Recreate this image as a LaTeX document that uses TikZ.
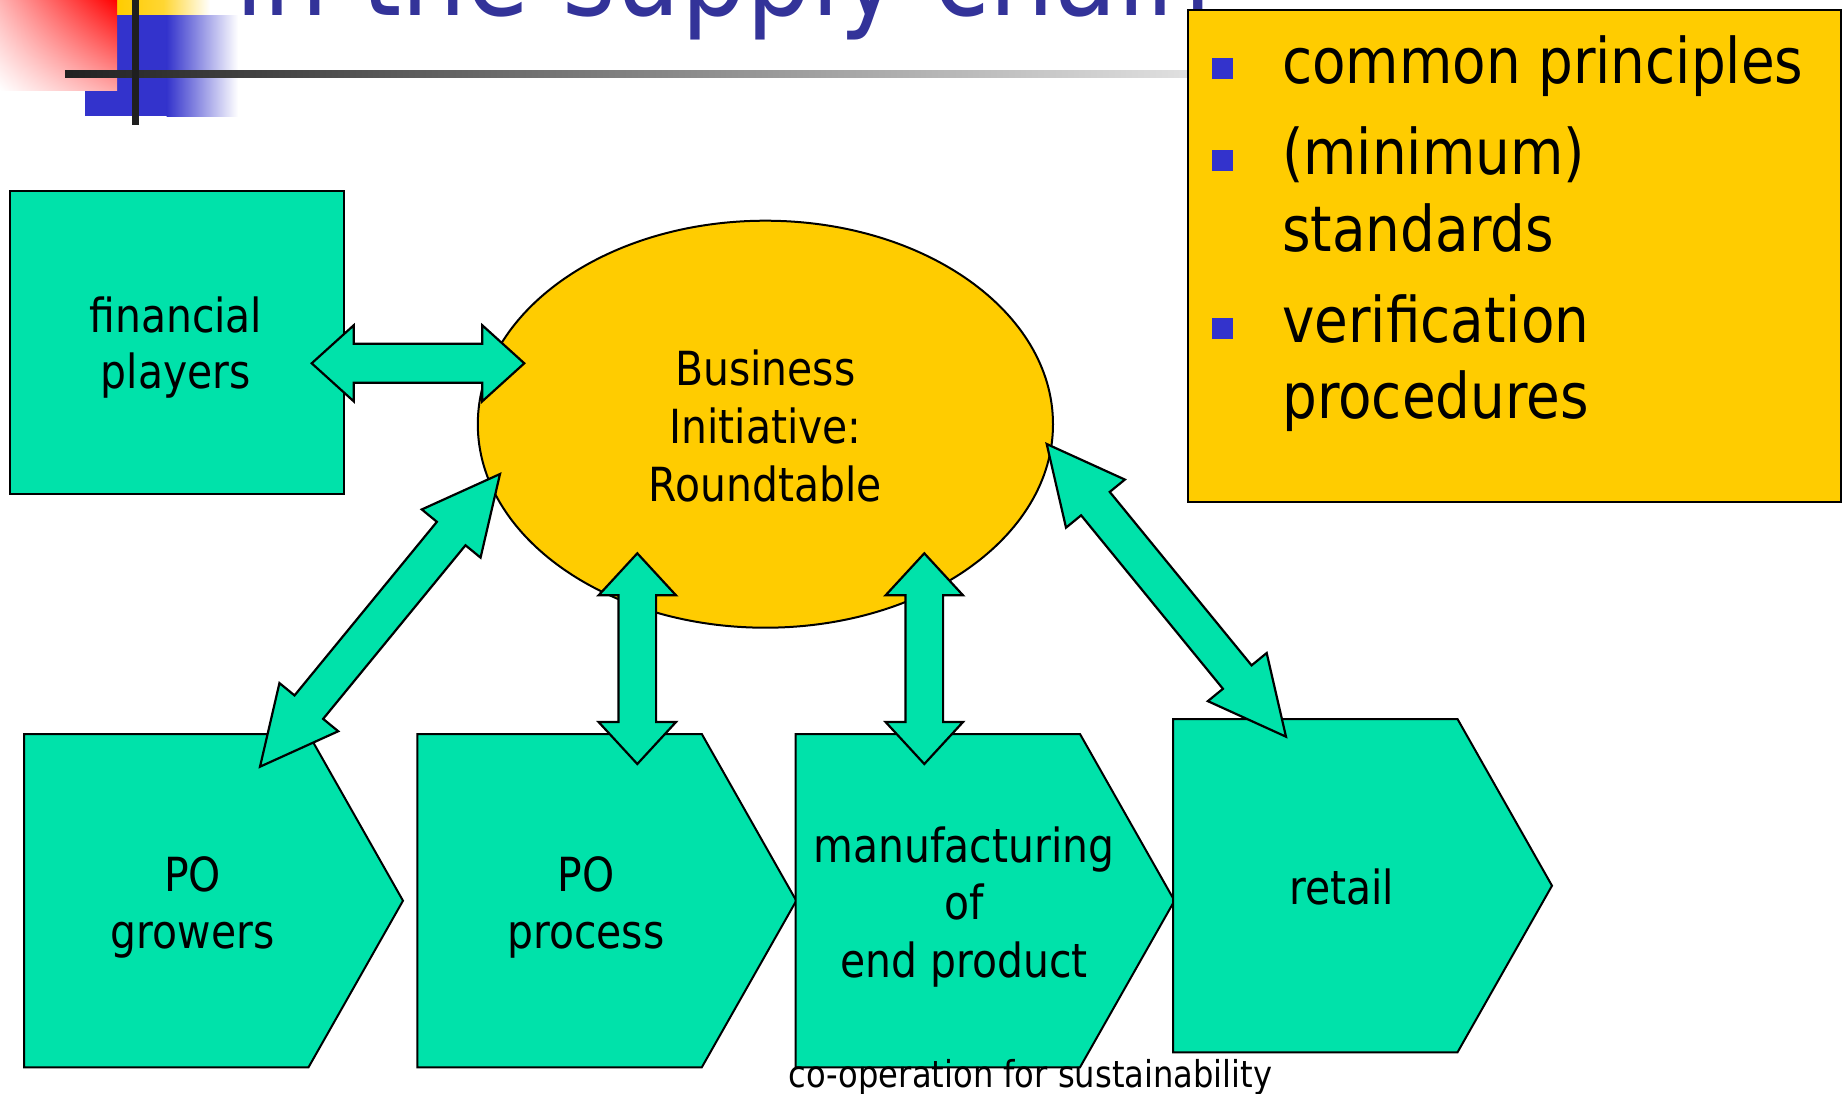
\documentclass[tikz,border=0pt]{standalone}
\usepackage{fontspec}
\setmainfont{DejaVu Sans}[FakeStretch=0.87]
\usetikzlibrary{calc,shapes.geometric,shadings}
\definecolor{grn}{RGB}{0,226,170}
\definecolor{ylw}{RGB}{255,204,0}
\definecolor{blu}{RGB}{51,51,204}
\definecolor{ttl}{RGB}{51,51,153}
\tikzset{
  box/.style={draw=black, fill=grn, line width=2pt, line join=miter},
  dbl/.style={draw=black, fill=grn, line width=2.2pt, line join=miter},
  lbl/.style={font=\fontsize{47}{57}\selectfont, inner sep=0pt, anchor=base},
  lst/.style={font=\fontsize{63}{77}\selectfont, inner sep=0pt, anchor=base west},
  bul/.style={fill=blu, minimum size=21pt, inner sep=0pt},
}
\newcommand\dblarrow[5]{%
  \path[dbl] let \p1=(#1), \p2=(#2),
     \n1={atan2(\y2-\y1,\x2-\x1)}, \n2={veclen(\x2-\x1,\y2-\y1)} in
     [shift={(\p1)}, rotate=\n1]
     (0pt,0pt) -- (#3pt,#4pt) -- (#3pt,#5pt) -- (\n2-#3pt,#5pt) -- (\n2-#3pt,#4pt) -- (\n2,0pt)
     -- (\n2-#3pt,-#4pt) -- (\n2-#3pt,-#5pt) -- (#3pt,-#5pt) -- (#3pt,-#4pt) -- cycle;}
\newcommand\homeplate[3]{%
  \draw[box] (#2,#3) -- ++(284.5,0) -- ++(94.5,166.7) -- ++(-94.5,166.6) -- ++(-284.5,0) -- cycle;
  \coordinate (#1) at (#2+189.5,#3+166.7);}
\begin{document}
\begin{tikzpicture}[x=1pt,y=-1pt]
\useasboundingbox (0,0) rectangle (1848,1093);
\clip (0,0) rectangle (1848,1093);
\fill[white] (0,0) rectangle (1848,1093);
% title decoration
\shade[left color=ylw, right color=white, middle color=ylw!80] (117,-5) rectangle (210,60);
\fill[blu] (85,15) rectangle (167,116);
\shade[left color=blu, right color=white] (166.5,15) rectangle (238,116);
\shade[upper right=red, upper left=red!30, lower right=red!35, lower left=white] (0,0) rectangle (117,90);
\shade[left color=black!87, right color=black!8] (65,70) rectangle (1250,77);
\fill[black!88] (132,0) rectangle (139,125);
\node[font=\fontsize{118}{124}\selectfont, text=ttl, anchor=base west, inner sep=0pt] (title) at (235,15) {in the supply chain};
% yellow list box
\node[draw=black, fill=ylw, line width=2pt, minimum width=653pt, minimum height=492pt, anchor=north west, inner sep=0pt] (ybox) at (1187,9) {};
\node[bul] (b1) at (1222.5,68.5) {};
\node[bul] (b2) at (1222.5,160.5) {};
\node[bul] (b3) at (1222.5,328.5) {};
\node[lst] (l1) at (1282,83) {common principles};
\node[lst] (l2) at (1282,174) {(minimum)};
\node[lst] (l3) at (1282,251) {standards};
\node[lst] (l4) at (1282,342) {verification};
\node[lst] (l5) at (1282,418) {procedures};
% financial players
\node[box, minimum width=333.7pt, minimum height=302.7pt, anchor=north west, inner sep=0pt] (fin) at (9,190) {};
\node[lbl] (fin1) at (175.8,332.5) {financial};
\node[lbl] (fin2) at (175.8,388.3) {players};
% ellipse
\node[ellipse, draw=black, fill=ylw, line width=2pt, minimum width=575.2pt, minimum height=407pt, inner sep=0pt] (bi) at (765.4,424.2) {};
\node[lbl] (bi1) at (765.4,385) {Business};
\node[lbl] (bi2) at (765.4,443) {Initiative:};
\node[lbl] (bi3) at (765.4,501) {Roundtable};
% chain shapes
\homeplate{grow}{24}{734}
\homeplate{proc}{417.3}{734}
\homeplate{manu}{795.5}{734}
\homeplate{reta}{1173}{719}
\node[lbl] (g1) at (192.5,891) {PO};
\node[lbl] (g2) at (192.5,948.3) {growers};
\node[lbl] (p1) at (585.8,891) {PO};
\node[lbl] (p2) at (585.8,948.3) {process};
\node[lbl] (m1) at (964,862.5) {manufacturing};
\node[lbl] (m2) at (964,919.8) {of};
\node[lbl] (m3) at (964,977) {end product};
\node[lbl] (r1) at (1341.5,904.5) {retail};
% arrows
\coordinate (fpR) at (311.7,363.3);
\coordinate (biL) at (524.3,363.3);
\coordinate (biLL) at (500,474);
\coordinate (gT) at (260,766.7);
\coordinate (biLR) at (1046.7,444);
\coordinate (rT) at (1286,736.7);
\coordinate (biB1) at (637.3,553.3);
\coordinate (pT) at (637.3,764);
\coordinate (biB2) at (924.3,553.3);
\coordinate (mT) at (924.3,764);
\dblarrow{fpR}{biL}{42}{38}{19.5}
\dblarrow{biLL}{gT}{77}{38}{18.5}
\dblarrow{biLR}{rT}{77}{38}{18.5}
\dblarrow{biB1}{pT}{42}{38.7}{18.8}
\dblarrow{biB2}{mT}{42}{38.7}{18.8}
% footer
\node[font=\fontsize{37}{44}\selectfont, inner sep=0pt, anchor=base] (foot) at (1030.5,1087) {co-operation for sustainability};
\end{tikzpicture}
\end{document}
